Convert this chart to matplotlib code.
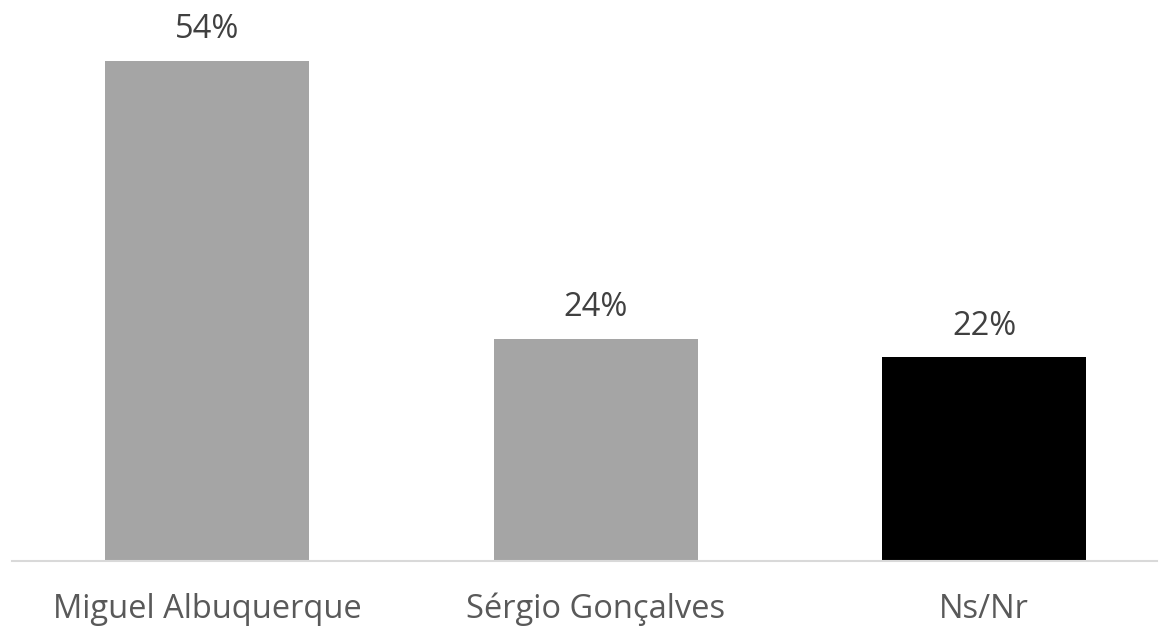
import matplotlib

matplotlib.use("Agg")

import matplotlib.pyplot as plt  # noqa: E402

categories = ["Miguel Albuquerque", "Sérgio Gonçalves", "Ns/Nr"]
values = [54, 24, 22]
bar_colors = ["#a5a5a5", "#a5a5a5", "#000000"]

plt.rcParams["font.family"] = ["Open Sans", "DejaVu Sans"]

fig = plt.figure(figsize=(11.69, 6.26), dpi=100)
ax = fig.add_axes([12 / 1169, 1 - 561 / 626, 1145 / 1169, 556 / 626])

x = range(len(categories))
bars = ax.bar(x, values, width=0.525, color=bar_colors)

for rect, v in zip(bars, values):
    ax.annotate(
        f"{v}%",
        (rect.get_x() + rect.get_width() / 2, rect.get_height()),
        xytext=(0, 16), textcoords="offset points",
        ha="center", va="baseline", fontsize=23.5, color="#404040",
    )

ax.set_xlim(-0.502, 2.445)
ax.set_ylim(0, 60)
ax.set_xticks(list(x))
ax.set_xticklabels(categories, fontsize=23.5, color="#595959")
ax.tick_params(axis="x", length=0, pad=23)
ax.set_yticks([])
for side in ("top", "right", "left"):
    ax.spines[side].set_visible(False)
ax.spines["bottom"].set_color("#d9d9d9")
ax.spines["bottom"].set_linewidth(1.5)

fig.savefig("out.png", dpi=100)
